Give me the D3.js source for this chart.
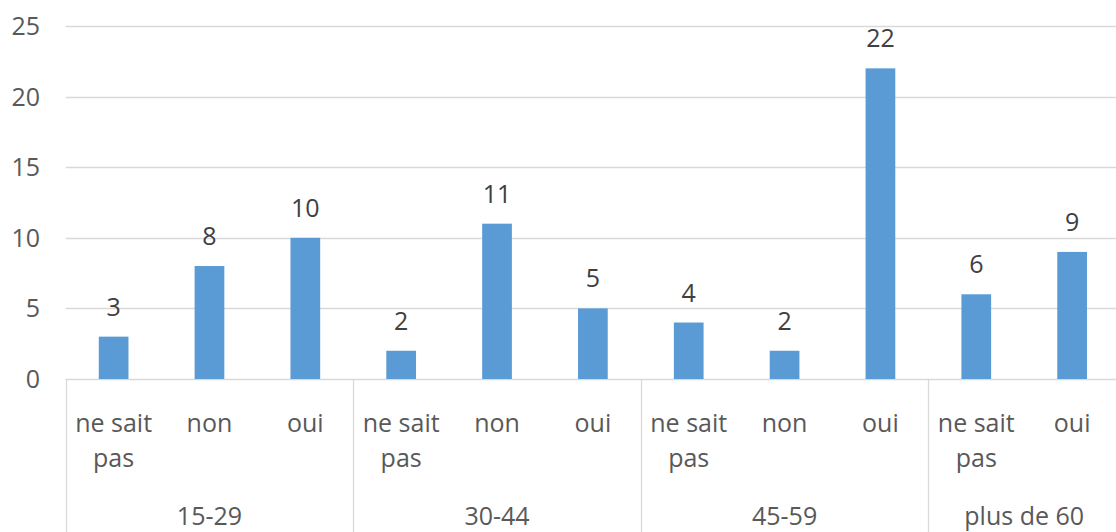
<!DOCTYPE html>
<html>
<head>
<meta charset="utf-8">
<script src="https://cdn.jsdelivr.net/npm/d3@7"></script>
<style>
  html, body { margin: 0; padding: 0; background: #fff; }
  svg { display: block; }
  text { font-family: "Open Sans", "Noto Sans", sans-serif; }
</style>
</head>
<body>
<svg id="chart" width="1116" height="532"></svg>
<script>
const groups = ["15-29", "30-44", "45-59", "plus de 60"];
const groupSizes = [3, 3, 3, 2];
const categories = ["ne sait pas", "non", "oui", "ne sait pas", "non", "oui", "ne sait pas", "non", "oui", "ne sait pas", "oui"];
const values = [3, 8, 10, 2, 11, 5, 4, 2, 22, 6, 9];
const yTicks = [0, 5, 10, 15, 20, 25];

const svg = d3.select("#chart");
const W = 1116, H = 532;
const left = 65.7, right = left + 11 * 95.85;
const y0 = 379, y1 = 26;

const ids = d3.range(values.length);
const x = d3.scaleBand().domain(ids).range([left, right]).paddingInner(0.69).paddingOuter(0.345);
const y = d3.scaleLinear().domain([0, 25]).range([y0, y1]);

const gridColor = "#d9d9d9";
const textColor = "#595959";
const fs = "25px";

// gridlines
svg.append("g").selectAll("line").data(yTicks).join("line")
  .attr("x1", left).attr("x2", W)
  .attr("y1", d => Math.round(y(d)) + 0.5).attr("y2", d => Math.round(y(d)) + 0.5)
  .attr("stroke", gridColor).attr("stroke-width", 1.3);

// y tick labels
svg.append("g").selectAll("text").data(yTicks).join("text")
  .attr("x", 40).attr("y", d => y(d)).attr("dy", "0.36em")
  .attr("text-anchor", "end").attr("fill", textColor)
  .style("font-size", fs).text(d => d);

// bars
svg.append("g").selectAll("rect").data(values).join("rect")
  .attr("x", (d, i) => x(i)).attr("width", x.bandwidth())
  .attr("y", d => y(d)).attr("height", d => y(0) - y(d))
  .attr("fill", "#5b9bd5");

// value labels
svg.append("g").selectAll("text").data(values).join("text")
  .attr("x", (d, i) => x(i) + x.bandwidth() / 2).attr("y", d => y(d) - 21)
  .attr("text-anchor", "middle").attr("fill", "#404040")
  .style("font-size", fs).text(d => d);

// category labels
const cat = svg.append("g").selectAll("text").data(categories).join("text")
  .attr("text-anchor", "middle").attr("fill", textColor)
  .style("font-size", fs);
cat.each(function (d, i) {
  const cx = x(i) + x.bandwidth() / 2;
  const lines = d === "ne sait pas" ? ["ne sait", "pas"] : [d];
  const t = d3.select(this);
  lines.forEach((l, k) => {
    t.append("tspan").attr("x", cx).attr("y", 432 + k * 35).text(l);
  });
});

// group separators and labels
const starts = [];
let acc = 0;
groupSizes.forEach(s => { starts.push(acc); acc += s; });
const step = x.step();
const boundaries = starts.concat([acc]).map(i => left + i * step);
svg.append("g").selectAll("line").data(boundaries).join("line")
  .attr("x1", d => Math.round(d) + 0.5).attr("x2", d => Math.round(d) + 0.5)
  .attr("y1", y0).attr("y2", H)
  .attr("stroke", gridColor).attr("stroke-width", 1.3);

svg.append("g").selectAll("text").data(groups).join("text")
  .attr("x", (d, i) => left + (starts[i] + groupSizes[i] / 2) * step)
  .attr("y", 525).attr("text-anchor", "middle").attr("fill", textColor)
  .style("font-size", fs).text(d => d);
</script>
</body>
</html>
